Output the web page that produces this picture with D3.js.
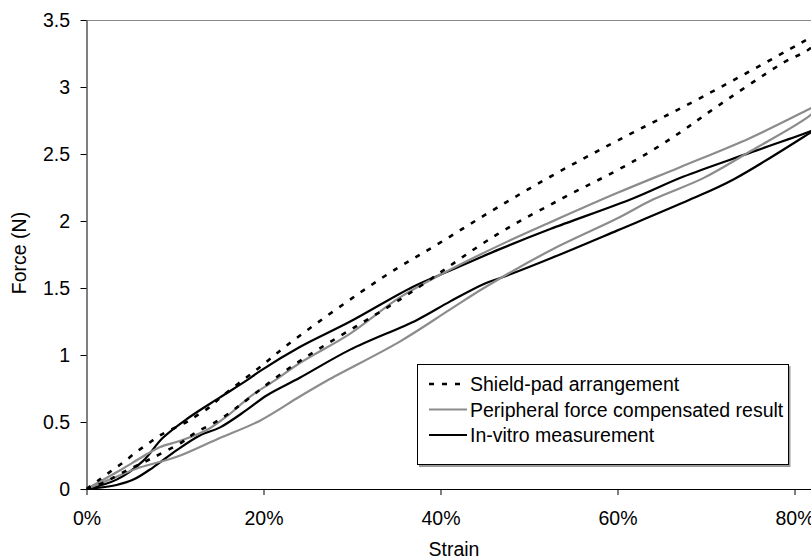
<!DOCTYPE html>
<html>
<head>
<meta charset="utf-8">
<script src="https://cdn.jsdelivr.net/npm/d3@7"></script>
<style>
  html, body { margin: 0; padding: 0; background: #fff; }
  svg { display: block; font-family: "Liberation Sans", Arial, sans-serif; }
</style>
</head>
<body>
<svg id="chart" width="811" height="559"></svg>
<script>
// Strain (%) / force (N) pairs for each loop, loading branch and unloading branch.
const shieldLoad = [[0,0],[1.4,0.067],[2.9,0.14],[4.2,0.2],[5.7,0.28],[7,0.34],[8.3,0.4],[11.3,0.5],[12.5,0.55],[13.9,0.61],[15.1,0.68],[19.4,0.9],[23.6,1.12],[33.5,1.58],[40,1.84],[46.4,2.1],[53.2,2.36],[60,2.6],[69.7,2.93],[81.8,3.37],[83.5,3.44]];
const shieldUnload = [[0,0],[2,0.05],[4,0.12],[7.4,0.23],[10.8,0.35],[12.3,0.42],[15.1,0.52],[23.3,0.92],[35.8,1.43],[46.4,1.9],[53.8,2.17],[60,2.38],[64,2.53],[67.5,2.68],[70.5,2.82],[78.7,3.18],[81.8,3.29],[83.5,3.44]];

const periphLoad = [[0,0],[3.8,0.14],[6.2,0.235],[8.2,0.31],[10.6,0.36],[13.6,0.44],[16,0.55],[18.5,0.69],[21.5,0.82],[24.1,0.94],[29.8,1.16],[35.4,1.43],[40.3,1.61],[46.7,1.82],[52.4,1.99],[60,2.21],[67,2.4],[75,2.62],[81.8,2.84],[83,2.88]];
const periphUnload = [[0,0],[2.6,0.07],[6,0.16],[10.2,0.24],[14.7,0.37],[19.6,0.51],[24.1,0.69],[27.2,0.81],[35.4,1.1],[41.1,1.34],[44.9,1.5],[52.4,1.78],[60,2.02],[64,2.16],[69.7,2.32],[75,2.52],[81.8,2.79],[83,2.88]];

const vitroLoad = [[0,0],[3.4,0.07],[6.4,0.21],[8.6,0.38],[11.5,0.53],[15,0.68],[18.1,0.81],[19.6,0.88],[24.1,1.06],[29.8,1.25],[36.9,1.51],[41.1,1.63],[46.7,1.79],[52.4,1.94],[61.8,2.17],[67.4,2.33],[75,2.51],[81.8,2.67],[82.5,2.69]];
const vitroUnload = [[0,0],[3.4,0.03],[5.3,0.07],[7.5,0.16],[10.2,0.29],[12.8,0.4],[15.1,0.46],[18.1,0.59],[20.4,0.7],[24.1,0.83],[29.8,1.04],[37.3,1.26],[41.1,1.4],[44.9,1.53],[47,1.58],[52.4,1.72],[60,1.93],[68.2,2.16],[73.1,2.31],[81.8,2.66],[82.5,2.69]];

const xTicks = [0, 20, 40, 60, 80];
const yTicks = [0, 0.5, 1, 1.5, 2, 2.5, 3, 3.5];
const seriesNames = ["Shield-pad arrangement", "Peripheral force compensated result", "In-vitro measurement"];

const svg = d3.select("#chart");
const plotLeft = 86.5, plotRight = 811, plotTop = 20, plotBottom = 489;
const fontSize = 19.5;

const x = d3.scaleLinear().domain([0, 80]).range([plotLeft, 794.5]);
const y = d3.scaleLinear().domain([0, 3.5]).range([plotBottom, plotTop]);

// plot frame (top edge)
svg.append("line")
  .attr("x1", plotLeft).attr("x2", plotRight).attr("y1", plotTop + 0.5).attr("y2", plotTop + 0.5)
  .attr("stroke", "#8a8a8a").attr("stroke-width", 1);

const clip = svg.append("defs").append("clipPath").attr("id", "plot-clip");
clip.append("rect").attr("x", plotLeft).attr("y", plotTop)
  .attr("width", plotRight - plotLeft).attr("height", plotBottom - plotTop);

const line = d3.line()
  .x(d => x(d[0])).y(d => y(d[1]))
  .curve(d3.curveCatmullRom.alpha(0.5));

const styles = [
  { data: [shieldLoad, shieldUnload], stroke: "#000", width: 2.6, dash: "5,8" },
  { data: [periphLoad, periphUnload], stroke: "#8c8c8c", width: 2.2, dash: null },
  { data: [vitroLoad, vitroUnload], stroke: "#000", width: 2.2, dash: null }
];

const plot = svg.append("g").attr("clip-path", "url(#plot-clip)");
// in-vitro beneath, then peripheral, then shield-pad on top
[2, 1, 0].forEach(i => {
  const s = styles[i];
  s.data.forEach(branch => {
    plot.append("path")
      .attr("d", line(branch))
      .attr("fill", "none")
      .attr("stroke", s.stroke)
      .attr("stroke-width", s.width)
      .attr("stroke-dasharray", s.dash)
      .attr("stroke-linejoin", "round");
  });
});

// axes
const xAxis = d3.axisBottom(x).tickValues(xTicks).tickFormat(d => d + "%")
  .tickSize(6).tickSizeOuter(0).tickPadding(16.5);
const gx = svg.append("g").attr("transform", `translate(0,${plotBottom})`).call(xAxis);
gx.select(".domain").attr("d", `M${plotLeft},0.5H${plotRight}`);

const yAxis = d3.axisLeft(y).tickValues(yTicks).tickFormat(d3.format("~g"))
  .tickSize(6).tickSizeOuter(0).tickPadding(10.5);
const gy = svg.append("g").attr("transform", `translate(${plotLeft},0)`).call(yAxis);

[gx, gy].forEach(g => {
  g.selectAll("text").attr("font-size", fontSize).attr("fill", "#000")
    .attr("font-family", "'Liberation Sans', Arial, sans-serif");
  g.selectAll("line, path").attr("stroke", "#000");
});

// axis titles
svg.append("text").attr("x", 454).attr("y", 556).attr("text-anchor", "middle")
  .attr("font-size", fontSize).text("Strain");
svg.append("text").attr("transform", "translate(26,253) rotate(-90)")
  .attr("text-anchor", "middle").attr("font-size", fontSize).text("Force (N)");

// legend
const lg = svg.append("g");
lg.append("rect").attr("x", 419).attr("y", 366).attr("width", 371.5).attr("height", 101)
  .attr("fill", "#9a9a9a");
lg.append("rect").attr("x", 417.5).attr("y", 364.5).attr("width", 371).attr("height", 100)
  .attr("fill", "#fff").attr("stroke", "#000").attr("stroke-width", 1);
const rowY = [384, 409.5, 435];
seriesNames.forEach((name, i) => {
  const s = styles[i];
  lg.append("line").attr("x1", 429).attr("x2", 467).attr("y1", rowY[i]).attr("y2", rowY[i])
    .attr("stroke", s.stroke).attr("stroke-width", s.width).attr("stroke-dasharray", s.dash);
  lg.append("text").attr("x", 470).attr("y", rowY[i] + 7).attr("font-size", fontSize).text(name);
});
</script>
</body>
</html>
